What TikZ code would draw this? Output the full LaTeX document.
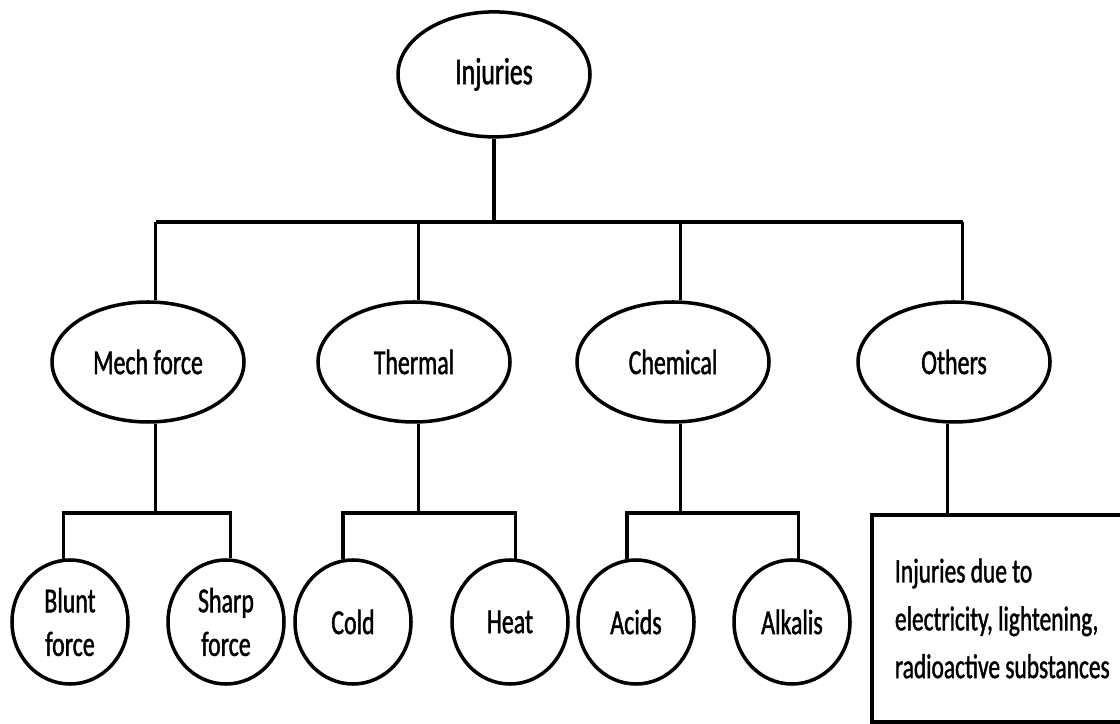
\documentclass[tikz,border=0pt]{standalone}
\usepackage{fontspec}
\setmainfont{Carlito}[FakeStretch=0.68, FakeBold=1.2]
\usepackage{tikz}
\usetikzlibrary{shapes.geometric,positioning,calc}
\tikzset{
  % connector line
  link/.style={draw=black, line width=2.5pt},
  % root ellipse
  topnode/.style={ellipse, draw=black, line width=2.5pt, inner sep=0pt,
                  minimum width=4.8cm, minimum height=3.125cm, font=\fontsize{27}{32}\selectfont},
  % category ellipse
  catnode/.style={ellipse, draw=black, line width=2.5pt, inner sep=0pt,
                  minimum width=4.8cm, minimum height=3.0cm, font=\fontsize{25}{30}\selectfont},
  % leaf circle
  leafnode/.style={ellipse, draw=black, line width=2.5pt, inner sep=0pt, align=center,
                   minimum width=2.9cm, minimum height=3.1cm, font=\fontsize{25}{31}\selectfont},
  % note box
  notebox/.style={rectangle, draw=black, line width=2.8pt, anchor=north west, align=flush left,
                  minimum width=7cm, minimum height=5.175cm, text width=5.85cm,
                  inner xsep=0.575cm, font=\fontsize{24.5}{34}\selectfont},
}
\begin{document}
\begin{tikzpicture}
  \useasboundingbox (0,0) rectangle (28,18.1);
  \clip (0,0) rectangle (28,18.1);

  % ── Root ──
  \node[topnode] (inj) at (12.35,16.24) {Injuries};

  % ── Categories ──
  \node[catnode] (mech)   at (3.7,9.05)   {Mech force};
  \node[catnode] (therm)  at (10.35,9.05) {Thermal};
  \node[catnode] (chem)   at (16.825,9.05){Chemical};
  \node[catnode] (others) at (23.85,9.05) {Others};

  \coordinate (bus) at (0,12.55);
  \draw[link] (inj.south) -- (inj.south |- bus);
  \draw[link] (mech.83 |- bus) -- (others.82 |- bus);
  \foreach \n/\a in {mech/83, therm/86, chem/83, others/82}
    \draw[link] (\n.\a) -- (\n.\a |- bus);

  % ── Leaves ──
  \node[leafnode] (blunt) at (1.75,2.55)  {Blunt\\force};
  \node[leafnode] (sharp) at (5.65,2.55)  {Sharp\\force};
  \node[leafnode] (cold)  at (8.825,2.55) {Cold};
  \node[leafnode] (heat)  at (12.75,2.55) {Heat};
  \node[leafnode] (acids) at (15.9,2.55)  {Acids};
  \node[leafnode] (alk)   at (19.8,2.55)  {Alkalis};

  \node[notebox] (note) at (21.75,5.275)
    {Injuries due to\\electricity, lightening,\\radioactive substances};

  \coordinate (sub) at (0,5.275);
  \foreach \p/\l/\r/\a/\b/\c in {mech/blunt/sharp/277/96/86,
                                 therm/cold/heat/274/99/85,
                                 chem/acids/alk/277/98/84}{
    \draw[link] (\p.\a) -- (\p.\a |- sub);
    \draw[link] (\l.\b) -- (\l.\b |- sub) -- (\r.\c |- sub) -- (\r.\c);
  }
  \draw[link] (others.264) -- (others.264 |- note.north);

\end{tikzpicture}
\end{document}
